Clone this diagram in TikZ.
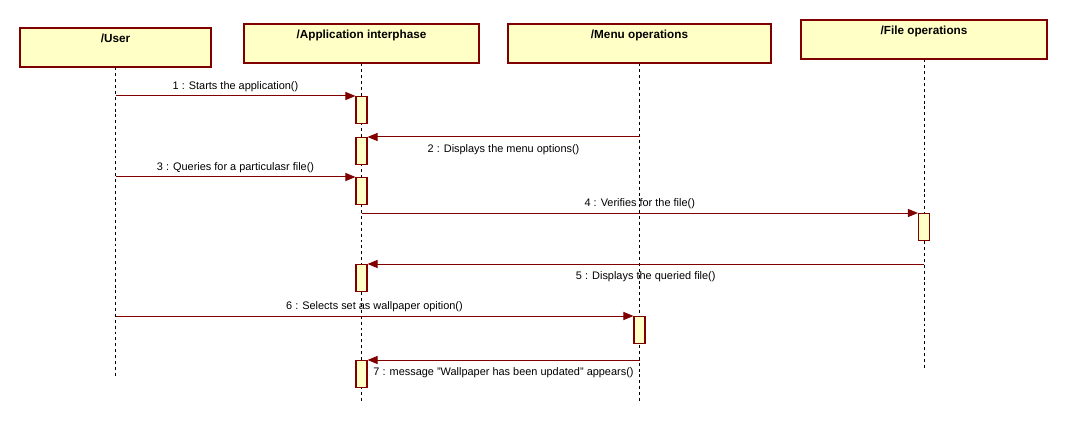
\documentclass[tikz,border=0pt]{standalone}
\usepackage{fontspec}
\setmainfont{Liberation Sans}
\usepackage{tikz}
\usetikzlibrary{arrows.meta, positioning, calc}
\usepackage{xcolor}
\definecolor{boxfill}{HTML}{FFFFC6}
\definecolor{darkred}{HTML}{800000}

\tikzset{
    objbox/.style={draw=darkred, fill=boxfill, line width=0.8pt, inner sep=0pt, minimum width=#1, text height=11.25pt, text depth=18pt, font=\fontsize{8.8}{10}\selectfont\bfseries},
    actbox/.style={draw=darkred, fill=boxfill, line width=0.8pt, inner sep=0pt, minimum width=8.25pt, minimum height=20.25pt, anchor=north},
    lifeline/.style={dashed, dash pattern=on 2.2pt off 2.2pt, line width=0.6pt, black},
    msg/.style={draw=darkred, line width=0.75pt, -{Triangle[length=7.5pt, width=6pt]}},
    msglabel/.style={font=\fontsize{8.2}{10}\selectfont, inner sep=0pt, text=black}
}

\begin{document}
\begin{tikzpicture}[x=0.75pt, y=-0.75pt]
    \path[use as bounding box, fill=white] (0,0) rectangle (1067,424);

    \node[objbox=143.25pt] (user) at (115.5,47.5) {/User};
    \node[objbox=176.25pt] (app) at (361.5,43.5) {/Application interphase};
    \node[objbox=197.25pt] (menu) at (639.5,43.5) {/Menu operations};
    \node[objbox=184.5pt] (file) at (924,39.5) {/File operations};

    \coordinate (userend) at (115.5,377);
    \coordinate (append) at (361.5,403);
    \coordinate (menuend) at (639.5,403);
    \coordinate (fileend) at (924,370);

    \draw[lifeline] (user.south) -- (userend);
    \draw[lifeline] (app.south) -- (append);
    \draw[lifeline] (menu.south) -- (menuend);
    \draw[lifeline] (file.south) -- (fileend);

    \node[actbox] (act1) at (361.5,96) {};
    \node[actbox] (act2) at (361.5,137) {};
    \node[actbox] (act3) at (361.5,177) {};
    \node[actbox] (act4) at (924,213) {};
    \node[actbox] (act5) at (361.5,264) {};
    \node[actbox] (act6) at (639.5,316) {};
    \node[actbox] (act7) at (361.5,360) {};

    \coordinate (u1) at (115.5,96);
    \coordinate (m2) at (639.5,137);
    \coordinate (u3) at (115.5,177);
    \coordinate (a4) at (361.5,213);
    \coordinate (f5) at (924,264);
    \coordinate (u6) at (115.5,316);
    \coordinate (m7) at (639.5,360);

    \draw[msg] (u1) -- node[msglabel, above=2.5pt] (l1) {1 : Starts the application()} (act1.north west);
    \draw[msg] (m2) -- node[msglabel, below=5.5pt] (l2) {2 : Displays the menu options()} (act2.north east);
    \draw[msg] (u3) -- node[msglabel, above=2.5pt] (l3) {3 : Queries for a particulasr file()} (act3.north west);
    \draw[msg] (a4) -- node[msglabel, above=2.5pt] (l4) {4 : Verifies for the file()} (act4.north west);
    \draw[msg] (f5) -- node[msglabel, below=5.5pt] (l5) {5 : Displays the queried file()} (act5.north east);
    \draw[msg] (u6) -- node[msglabel, above=2.5pt] (l6) {6 : Selects set as wallpaper opition()} (act6.north west);
    \draw[msg] (m7) -- node[msglabel, below=5.5pt] (l7) {7 : message "Wallpaper has been updated" appears()} (act7.north east);
\end{tikzpicture}
\end{document}
